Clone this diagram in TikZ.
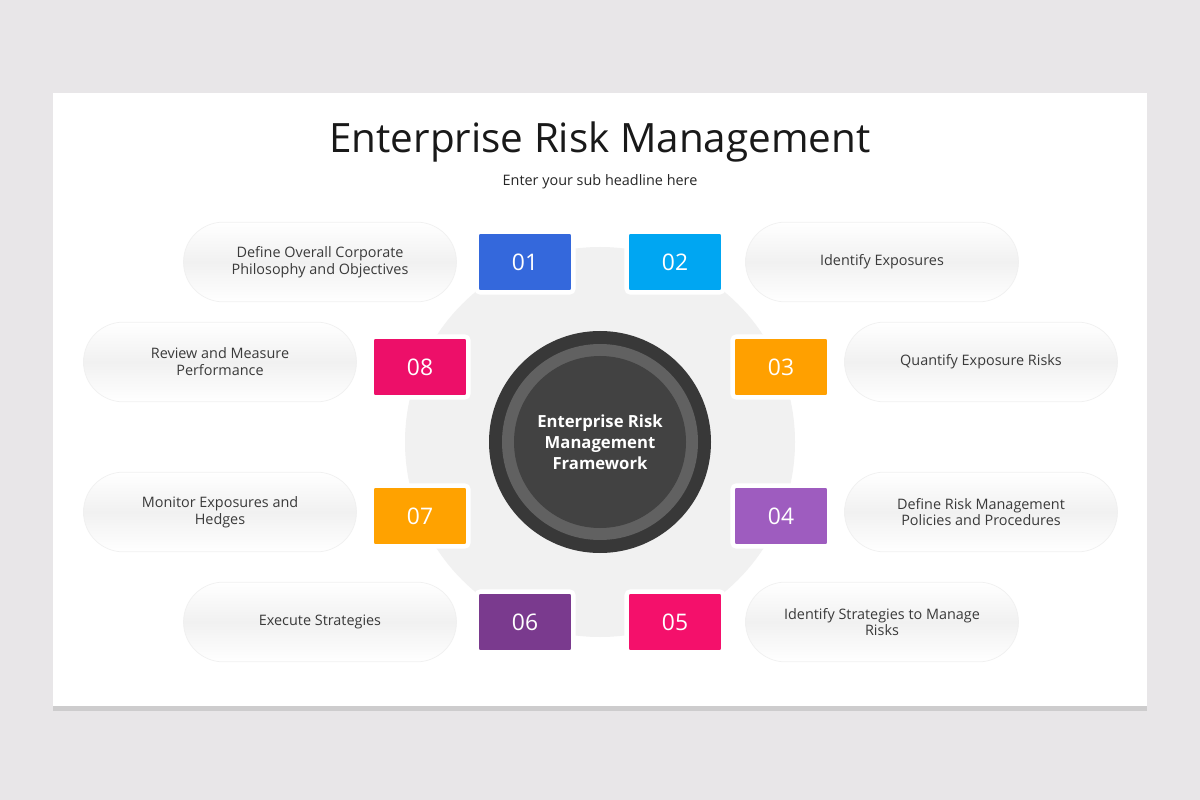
\documentclass[tikz,border=0pt]{standalone}
\usepackage{fontspec}
\setmainfont{Open Sans}
\usetikzlibrary{shadows}
\definecolor{bggray}{HTML}{E8E6E8}
\definecolor{ringgray}{HTML}{F1F1F1}
\definecolor{cOne}{HTML}{3468DC}
\definecolor{cTwo}{HTML}{00A6F2}
\definecolor{cThree}{HTML}{FFA000}
\definecolor{cFour}{HTML}{9E5CBF}
\definecolor{cFive}{HTML}{F4106B}
\definecolor{cSix}{HTML}{7A3A8E}
\definecolor{cSeven}{HTML}{FFA200}
\definecolor{cEight}{HTML}{ED0F69}
\definecolor{txtgray}{HTML}{3A3A3A}
\tikzset{
  pill/.style={rounded corners=40*0.567pt, minimum width=274*0.567pt, minimum height=80*0.567pt,
    draw=gray!12, top color=white, bottom color=white, middle color=gray!11,
    align=center, text=txtgray, font=\fontsize{8.2}{9.6}\selectfont},
  numbox/.style={fill=#1, draw=white, line width=2.5pt, rounded corners=2pt,
    minimum width=97*0.567pt, minimum height=61*0.567pt, text=white,
    font=\fontsize{13}{13}\selectfont}
}
\begin{document}
\begin{tikzpicture}[x=0.02cm, y=-0.02cm]
  % background and card
  \fill[bggray] (0,0) rectangle (1200,800);
  \fill[white, drop shadow={opacity=0.25, shadow xshift=0pt, shadow yshift=-3pt}] (53,93) rectangle (1147,706);

  % titles
  \node[font=\fontsize{23}{26}\selectfont, text=black!90] (title) at (600,142) {Enterprise Risk Management};
  \node[font=\fontsize{8.2}{10}\selectfont, text=black!85] (sub) at (600,182) {Enter your sub headline here};

  % central circles
  \fill[ringgray] (600,442) circle (195);
  \fill[black!78] (600,442) circle (111);
  \fill[black!62] (600,442) circle (98);
  \fill[black!74] (600,442) circle (86);
  \node[text=white, align=center, font=\bfseries\fontsize{9.5}{12}\selectfont] (centre) at (600,442)
    {Enterprise Risk\\Management\\Framework};

  % pills
  \node[pill] (p1) at (320,262) {Define Overall Corporate\\Philosophy and Objectives};
  \node[pill] (p2) at (882,262) {Identify Exposures};
  \node[pill] (p3) at (981,362) {Quantify Exposure Risks};
  \node[pill] (p4) at (981,512) {Define Risk Management\\Policies and Procedures};
  \node[pill] (p5) at (882,622) {Identify Strategies to Manage\\Risks};
  \node[pill] (p6) at (320,622) {Execute Strategies};
  \node[pill] (p7) at (220,512) {Monitor Exposures and\\Hedges};
  \node[pill] (p8) at (220,362) {Review and Measure\\Performance};

  % numbers
  \node[numbox=cOne] (n1) at (525,262) {01};
  \node[numbox=cTwo] (n2) at (675,262) {02};
  \node[numbox=cThree] (n3) at (781,367) {03};
  \node[numbox=cFour] (n4) at (781,516) {04};
  \node[numbox=cFive] (n5) at (675,622) {05};
  \node[numbox=cSix] (n6) at (525,622) {06};
  \node[numbox=cSeven] (n7) at (420,516) {07};
  \node[numbox=cEight] (n8) at (420,367) {08};
\end{tikzpicture}
\end{document}
